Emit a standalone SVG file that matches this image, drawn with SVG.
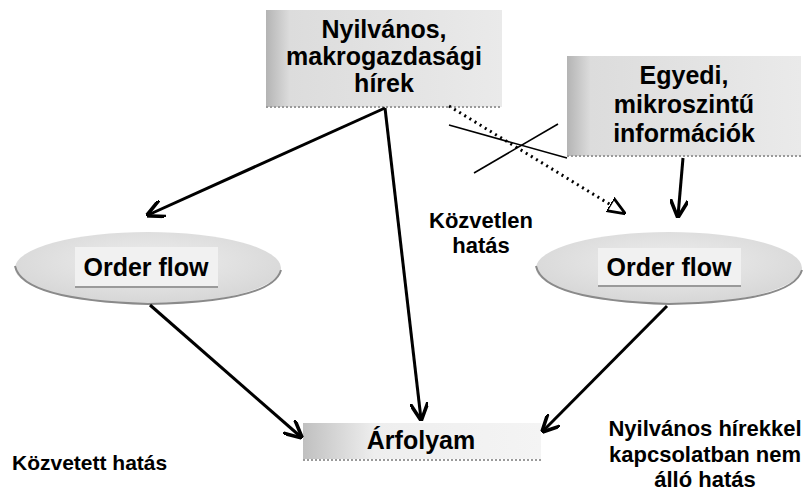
<svg xmlns="http://www.w3.org/2000/svg" width="804" height="493" viewBox="0 0 804 493">
  <style>
    text { font-family: "Liberation Sans", Arial, sans-serif; font-weight: bold; fill: #000; }
    .big { font-size: 25px; text-anchor: middle; }
    .lbl { font-size: 22px; }
    .box { fill: url(#boxGrad); }
    .base { stroke: #9a9a9a; stroke-width: 2; stroke-dasharray: 2 2; fill: none; }
    .edge { stroke: #000; stroke-width: 3; fill: none; marker-end: url(#arrow); }
    .thin { stroke: #000; stroke-width: 1.6; fill: none; }
    .rim { stroke: #8a8a8a; stroke-width: 2; fill: none; }
  </style>
  <defs>
    <linearGradient id="boxGrad" x1="0" y1="0" x2="1" y2="0">
      <stop offset="0" stop-color="#b4b4b4"/>
      <stop offset="0.1" stop-color="#dcdcdc"/>
      <stop offset="1" stop-color="#eaeaea"/>
    </linearGradient>
    <linearGradient id="arGrad" x1="0" y1="0" x2="1" y2="0">
      <stop offset="0" stop-color="#c0c0c0"/>
      <stop offset="0.3" stop-color="#eeeeee"/>
      <stop offset="1" stop-color="#f4f4f4"/>
    </linearGradient>
    <radialGradient id="ellGrad" cx="0.5" cy="0.4" r="0.65">
      <stop offset="0" stop-color="#eeeeee"/>
      <stop offset="1" stop-color="#d4d4d4"/>
    </radialGradient>
    <marker id="arrow" viewBox="0 0 10 10" refX="9" refY="5" markerWidth="6" markerHeight="6" orient="auto" markerUnits="strokeWidth">
      <path d="M0,0 L10,5 L0,10" fill="none" stroke="#000" stroke-width="2"/>
    </marker>
    <marker id="openArrow" viewBox="0 0 10 10" refX="9" refY="5" markerWidth="6" markerHeight="6" orient="auto" markerUnits="strokeWidth">
      <path d="M0,1 L10,5 L0,9 Z" fill="#fff" stroke="#000" stroke-width="1.5"/>
    </marker>
  </defs>

  <!-- news source box -->
  <g id="public-news">
    <rect class="box" x="266" y="10" width="236" height="97"/>
    <line class="base" x1="266" y1="107" x2="502" y2="107"/>
    <text class="big" x="384" y="38">Nyilvános,</text>
    <text class="big" x="384" y="65">makrogazdasági</text>
    <text class="big" x="384" y="92">hírek</text>
  </g>

  <!-- private information box -->
  <g id="private-info">
    <rect class="box" x="567" y="56" width="234" height="100"/>
    <line class="base" x1="567" y1="156" x2="801" y2="156"/>
    <text class="big" x="684" y="84">Egyedi,</text>
    <text class="big" x="684" y="113">mikroszintű</text>
    <text class="big" x="684" y="142">információk</text>
  </g>

  <!-- order flow, left -->
  <g id="orderflow-left">
    <ellipse cx="148" cy="268" rx="133" ry="36" fill="url(#ellGrad)"/>
    <path class="rim" d="M15,266 Q22,300 148,304 Q272,302 281,270"/>
    <rect x="75" y="247" width="143" height="39" fill="#f1f1f1"/>
    <line x1="75" y1="287" x2="218" y2="287" stroke="#9a9a9a" stroke-width="2"/>
    <text class="big" x="146" y="276">Order flow</text>
  </g>

  <!-- order flow, right -->
  <g id="orderflow-right">
    <ellipse cx="669" cy="268" rx="133" ry="36" fill="url(#ellGrad)"/>
    <path class="rim" d="M536,266 Q543,300 669,304 Q793,302 802,270"/>
    <rect x="598" y="248" width="143" height="37" fill="#f1f1f1"/>
    <line x1="598" y1="286" x2="741" y2="286" stroke="#9a9a9a" stroke-width="2"/>
    <text class="big" x="669" y="276">Order flow</text>
  </g>

  <!-- exchange rate box -->
  <g id="exchange-rate">
    <rect x="303" y="423" width="238" height="36" fill="url(#arGrad)"/>
    <line class="base" x1="303" y1="460" x2="541" y2="460"/>
    <text class="big" x="421" y="449">Árfolyam</text>
  </g>

  <!-- connectors -->
  <g id="connectors">
    <line class="edge" x1="385" y1="108" x2="148" y2="215"/>
    <line class="edge" x1="385" y1="108" x2="421" y2="419"/>
    <line x1="449" y1="106" x2="624" y2="213" stroke="#000" stroke-width="3" stroke-dasharray="2 4" marker-end="url(#openArrow)"/>
    <line class="thin" x1="449" y1="125" x2="567" y2="158"/>
    <line class="thin" x1="474" y1="173" x2="558" y2="124"/>
    <line class="edge" x1="683" y1="158" x2="678" y2="216"/>
    <line class="edge" x1="150" y1="305" x2="301" y2="437"/>
    <line class="edge" x1="667" y1="306" x2="543" y2="431"/>
  </g>

  <!-- effect labels -->
  <g id="labels">
    <text class="lbl" x="481" y="228" text-anchor="middle">Közvetlen</text>
    <text class="lbl" x="481" y="253" text-anchor="middle">hatás</text>
    <text x="12" y="470" style="font-size:21px">Közvetett hatás</text>
    <text class="lbl" x="705" y="436" text-anchor="middle">Nyilvános hírekkel</text>
    <text class="lbl" x="705" y="462" text-anchor="middle">kapcsolatban nem</text>
    <text class="lbl" x="705" y="487" text-anchor="middle">álló hatás</text>
  </g>
</svg>
